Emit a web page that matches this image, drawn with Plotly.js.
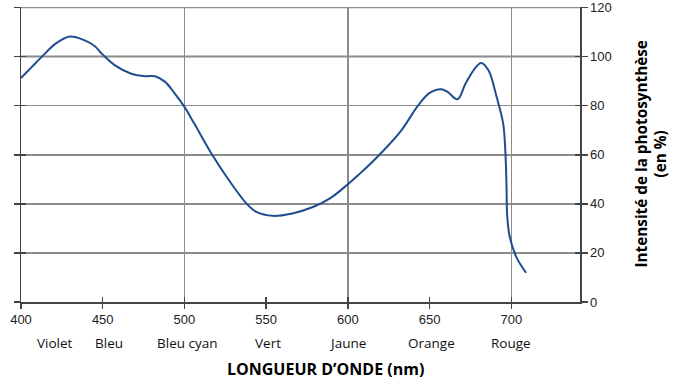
<!DOCTYPE html>
<html>
<head>
<meta charset="utf-8">
<script src="https://cdn.plot.ly/plotly-3.0.1.min.js"></script>
<style>html,body{margin:0;padding:0;background:#fff;}#chart{width:680px;height:381px;}</style>
</head>
<body>
<div id="chart"></div>
<script>
const wavelength = [400,406.5,414,421,430,439,445,450,457.5,467.5,476,482,488,494,500,506,516.5,526.5,538,544,554,566,579,589,600,607,613,619,632,643,650,657,661,667,672,677.5,681.5,686,691,695,696.3,697,697.5,699,703,709];
const intensity = [91.3,95.7,100.8,105.2,108.2,106.6,104.3,100.8,96.4,93,92,92,89.8,85,79.5,72.7,60.5,50.3,40.1,36.7,35.1,36.1,38.8,42.2,48,52.1,55.8,59.8,69.3,80.1,85.2,86.7,85.6,82.6,89,95,97.4,94.4,83.5,72.7,61.8,48.3,34.7,26.6,18.4,11.9];
const xTicks = [400,450,500,550,600,650,700];
const xGrid = [500,600,700];
const yTicks = [0,20,40,60,80,100,120];
const colorNames = ["Violet","Bleu","Bleu cyan","Vert","Jaune","Orange","Rouge"];
const colorPositions = [421,454,502,551,600,651,700];
const referenceLevel = 100;
const xRange = [400,742];
const yRange = [0,120.2];

const tickFont = {family:"Liberation Sans, Arial, sans-serif", size:13, color:"#222"};
const axisCol = "#444";
const gridCol = "#8c8c8c";

const traces = [
  {x: wavelength, y: intensity, type:'scatter', mode:'lines',
   line:{color:'#1f4d8f', width:2, shape:'spline', smoothing:1},
   hoverinfo:'skip', showlegend:false},
  {x:[], y:[], xaxis:'x2', yaxis:'y', type:'scatter', mode:'lines', showlegend:false, hoverinfo:'skip'},
  {x:[], y:[], xaxis:'x3', yaxis:'y', type:'scatter', mode:'lines', showlegend:false, hoverinfo:'skip'},
  {x:[], y:[], xaxis:'x', yaxis:'y2', type:'scatter', mode:'lines', showlegend:false, hoverinfo:'skip'}
];

const annotations = colorNames.map((n,i)=>({
  text:n, x:colorPositions[i], xref:'x', y:0, yref:'paper', yshift:-41,
  xanchor:'center', yanchor:'middle', showarrow:false,
  font:{family:"Open Sans, sans-serif", size:13.5, color:"#111"}
}));
annotations.push({
  text:"LONGUEUR D’ONDE (nm)", x:0.544, xref:'paper', y:0, yref:'paper', yshift:-67,
  xanchor:'center', yanchor:'middle', showarrow:false,
  font:{family:"Open Sans, sans-serif", size:16, color:"#000", weight:'bold'}
});
annotations.push({
  text:"Intensité de la photosynthèse<br>(en %)", x:1, xref:'paper', xshift:70, y:0.5, yref:'paper',
  xanchor:'center', yanchor:'middle', textangle:-90, showarrow:false,
  font:{family:"Open Sans, sans-serif", size:15.3, color:"#000", weight:'bold'}
});

const layout = {
  width:680, height:381,
  margin:{l:21, r:100, t:7, b:79},
  paper_bgcolor:'#fff', plot_bgcolor:'#fff',
  showlegend:false,
  xaxis:{range:xRange, tickmode:'array', tickvals:xTicks, ticks:'outside', ticklen:5, tickwidth:1.5, tickcolor:axisCol,
    showline:true, linecolor:axisCol, linewidth:1.5, showgrid:false, zeroline:false, tickfont:tickFont, fixedrange:true},
  xaxis2:{overlaying:'x', anchor:'y', range:xRange, tickmode:'array', tickvals:xTicks, ticks:'inside', ticklen:5, tickwidth:1.5, tickcolor:axisCol,
    showticklabels:false, showline:false, showgrid:false, zeroline:false},
  xaxis3:{overlaying:'x', anchor:'y', range:xRange, tickmode:'array', tickvals:xGrid, ticks:'', showticklabels:false,
    showline:false, showgrid:true, gridcolor:gridCol, gridwidth:1.5, zeroline:false},
  yaxis:{side:'right', range:yRange, tickmode:'array', tickvals:yTicks, ticks:'outside', ticklen:6, tickwidth:1.5, tickcolor:axisCol,
    showline:true, linecolor:axisCol, linewidth:1.5, mirror:'ticks', showgrid:true, gridcolor:gridCol, gridwidth:1.5, zeroline:false,
    tickfont:tickFont, ticklabeloverflow:'allow', fixedrange:true},
  yaxis2:{overlaying:'y', side:'right', anchor:'x', range:yRange, tickmode:'array', tickvals:yTicks, ticks:'inside', ticklen:5, tickwidth:1.5, tickcolor:axisCol,
    mirror:'ticks', showline:true, linecolor:axisCol, linewidth:1.5, showticklabels:false, showgrid:false, zeroline:false},
  shapes:[
    {type:'line', xref:'paper', x0:0, x1:1, yref:'y', y0:referenceLevel, y1:referenceLevel, line:{color:'#111', width:1.5}, layer:'below'},
    {type:'line', xref:'paper', x0:0, x1:1, yref:'y', y0:yTicks[yTicks.length-1], y1:yTicks[yTicks.length-1], line:{color:gridCol, width:1.5}, layer:'below'}
  ],
  annotations: annotations
};

Plotly.newPlot('chart', traces, layout, {displayModeBar:false, staticPlot:true});
</script>
</body>
</html>
